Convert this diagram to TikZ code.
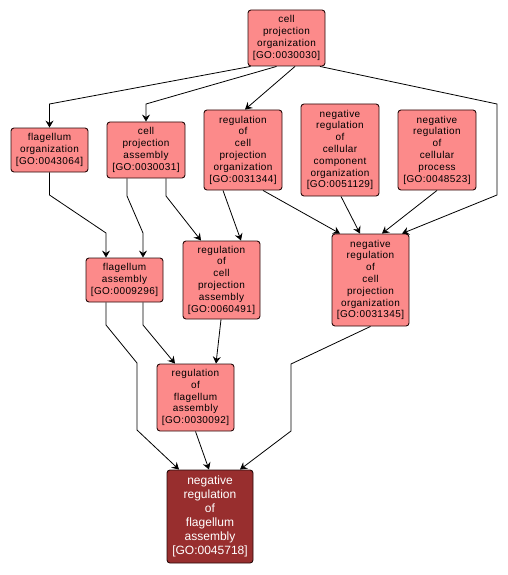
\documentclass[tikz,border=0pt]{standalone}
\usepackage{fontspec}
\setmainfont{Liberation Sans}
\newfontfamily\spacedfont[LetterSpace=4]{Liberation Sans}
\usetikzlibrary{arrows.meta}
\definecolor{gofill}{RGB}{252,138,138}
\definecolor{godark}{RGB}{152,46,46}
\definecolor{goline}{RGB}{40,10,10}
\tikzset{
  term/.style={draw=goline, line width=0.9pt, fill=gofill, rounded corners=3pt,
    align=center, inner sep=0pt, font=\spacedfont\fontsize{10}{11.8}\selectfont},
  mainterm/.style={term, fill=godark, text=white, font=\rmfamily\fontsize{12}{14}\selectfont},
  edge/.style={draw=black, line width=0.8pt, -{Stealth[length=7pt,width=8pt,inset=2.5pt]}}
}
\begin{document}
\begin{tikzpicture}[x=1pt,y=-1pt]
\useasboundingbox (0,0) rectangle (507,575);
\node[term, minimum width=77pt, minimum height=56pt] (top) at (286.5,38) {cell\\projection\\organization\\{[GO:0030030]}};
\node[term, minimum width=77pt, minimum height=44pt] (fo) at (49.5,150) {flagellum\\organization\\{[GO:0043064]}};
\node[term, minimum width=78pt, minimum height=56pt] (cpa) at (146,150) {cell\\projection\\assembly\\{[GO:0030031]}};
\node[term, minimum width=78pt, minimum height=80pt] (rcpo) at (243,150) {regulation\\of\\cell\\projection\\organization\\{[GO:0031344]}};
\node[term, minimum width=78pt, minimum height=92pt] (nrccp) at (340,150) {negative\\regulation\\of\\cellular\\component\\organization\\{[GO:0051129]}};
\node[term, minimum width=78pt, minimum height=80pt] (nrcp) at (437,150) {negative\\regulation\\of\\cellular\\process\\{[GO:0048523]}};
\node[term, minimum width=77pt, minimum height=44pt] (fa) at (124.5,280) {flagellum\\assembly\\{[GO:0009296]}};
\node[term, minimum width=77pt, minimum height=78pt] (rcpa) at (221.5,280) {regulation\\of\\cell\\projection\\assembly\\{[GO:0060491]}};
\node[term, minimum width=77pt, minimum height=92pt] (nrcpo) at (370.5,280) {negative\\regulation\\of\\cell\\projection\\organization\\{[GO:0031345]}};
\node[term, minimum width=77pt, minimum height=67pt] (rfa) at (195.5,397.5) {regulation\\of\\flagellum\\assembly\\{[GO:0030092]}};
\node[mainterm, minimum width=86pt, minimum height=93pt] (bot) at (210,516.5) {negative\\regulation\\of\\flagellum\\assembly\\{[GO:0045718]}};

\draw[edge] ([xshift=-36pt]top.south) -- (49.5,104) -- (fo.north);
\draw[edge] ([xshift=-10pt]top.south) -- (146,104) -- (cpa.north);
\draw[edge] ([xshift=8.5pt]top.south) -- ([xshift=2pt]rcpo.north);
\draw[edge] ([xshift=33.5pt]top.south) -- (497,104) -- (497,195) -- ([xshift=31.5pt]nrcpo.north);
\draw[edge] (fo.south) -- (49.5,195) -- (106,233) -- ([xshift=-18.5pt]fa.north);
\draw[edge] ([xshift=-19pt]cpa.south) -- (127,196) -- (143,233) -- ([xshift=18.5pt]fa.north);
\draw[edge] ([xshift=20pt]cpa.south) -- (166,196) -- ([xshift=-20.5pt]rcpa.north);
\draw[edge] ([xshift=-20pt]rcpo.south) -- ([xshift=19.5pt]rcpa.north);
\draw[edge] ([xshift=20pt]rcpo.south) -- ([xshift=-30.5pt]nrcpo.north);
\draw[edge] ([xshift=1pt]nrccp.south) -- ([xshift=-10.5pt]nrcpo.north);
\draw[edge] (nrcp.south) -- ([xshift=11.5pt]nrcpo.north);
\draw[edge] ([xshift=-18.5pt]fa.south) -- (106,325) -- (137,363) -- (137,430) -- ([xshift=-31pt]bot.north);
\draw[edge] ([xshift=18.5pt]fa.south) -- (143,325) -- ([xshift=-20.5pt]rfa.north);
\draw[edge] ([xshift=-0.5pt]rcpa.south) -- ([xshift=20.5pt]rfa.north);
\draw[edge] (rfa.south) -- ([xshift=-1pt]bot.north);
\draw[edge] (nrcpo.south) -- (291,364) -- (291,431) -- ([xshift=30pt]bot.north);
\end{tikzpicture}
\end{document}
